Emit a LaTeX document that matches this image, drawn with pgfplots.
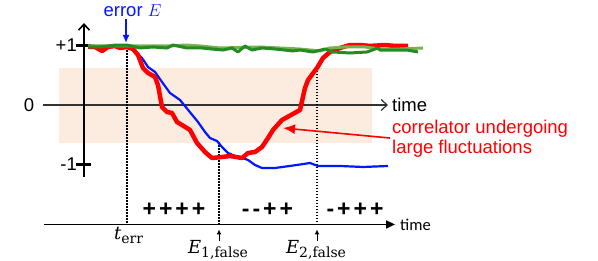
\documentclass[border=0pt]{standalone}
\usepackage[no-math]{fontspec}
\setmainfont{Liberation Sans}
\newfontfamily\dserif{DejaVu Serif}
\newfontfamily\carl{Carlito}
\usepackage{pgfplots}
\pgfplotsset{compat=1.18}
\usetikzlibrary{arrows.meta}
\definecolor{cred}{RGB}{255,0,0}
\definecolor{cblue}{RGB}{0,24,255}
\definecolor{dgreen}{RGB}{34,139,34}
\definecolor{lgreen}{RGB}{120,178,80}
\definecolor{shade}{RGB}{252,236,224}
\definecolor{axgray}{RGB}{50,50,50}
\newcommand\fs{\fontsize{18.5}{22}\selectfont}
\newcommand\fsb{\fontsize{23}{26}\selectfont\bfseries}
\newcommand\lab[3]{{\dserif\fontsize{18}{20}\selectfont\itshape #1}\kern#3\raisebox{-4pt}{\dserif\fontsize{14}{16}\selectfont #2}}
\begin{document}
\begin{tikzpicture}
\begin{axis}[
  scale only axis, width=598pt, height=261pt,
  xmin=0, xmax=598, ymin=-2.6218, ymax=1.7647,
  hide axis, clip=false,
]
\coordinate (bl) at (rel axis cs:0,0);
\coordinate (tr) at (rel axis cs:1,1);
% shaded band
\addplot[draw=none, fill=shade] coordinates {(59,0.622) (372,0.622) (372,-0.639) (59,-0.639)} -- cycle;
% middle time axis and y axis
\draw[line width=1.2pt, color=axgray, -{Straight Barb[length=6pt,width=11pt]}] (axis cs:43,0) -- (axis cs:388,0);
\draw[line width=1.6pt, -{Straight Barb[length=6pt,width=11pt]}] (axis cs:84,-1.21) -- (axis cs:84,1.378);
\draw[line width=2.2pt] (axis cs:76,1) -- (axis cs:91,1);
\draw[line width=2.2pt] (axis cs:76,-1) -- (axis cs:91,-1);
% bottom time axis
\draw[line width=1.8pt, -{Triangle[length=9pt,width=8pt]}] (axis cs:44,-2.008) -- (axis cs:395,-2.008);
% dotted lines
\draw[line width=1.5pt, dash pattern=on 1.5pt off 1.5pt] (axis cs:127,0.924) -- (axis cs:127,-2.008);
\draw[line width=1.5pt, dash pattern=on 1.5pt off 1.5pt] (axis cs:219,-0.622) -- (axis cs:219,-2.008);
\draw[line width=1.5pt, dash pattern=on 1.5pt off 1.5pt] (axis cs:317,0.622) -- (axis cs:317,-2.008);
% curves
\addplot[cblue, line width=2.2pt, line join=round] coordinates {
(88,0.992)(127,0.992)(133,0.924)(142,0.790)(148,0.639)(155,0.555)(162,0.387)(170,0.202)(180,0.084)(189,-0.101)(198,-0.286)(205,-0.454)(210,-0.555)(217,-0.605)(222,-0.706)(228,-0.807)(235,-0.857)(242,-0.891)(248,-0.924)(255,-1.008)(262,-1.059)(275,-1.059)(297,-1.008)(310,-0.975)(318,-1.025)(340,-1.025)(363,-1.042)(388,-1.025)};
\addplot[cred, line width=4.5pt, line join=round] coordinates {
(88,0.975)(95,0.975)(102,0.908)(108,0.975)(115,0.992)(120,0.958)(127,0.975)(133,0.941)(138,0.840)(143,0.622)(148,0.538)(155,0.471)(158,0.336)(162,-0.034)(167,-0.118)(172,-0.134)(177,-0.286)(182,-0.336)(190,-0.420)(197,-0.639)(205,-0.790)(212,-0.891)(222,-0.874)(230,-0.857)(242,-0.891)(248,-0.807)(255,-0.790)(262,-0.706)(268,-0.555)(273,-0.420)(282,-0.252)(300,-0.084)(305,0.286)(308,0.420)(317,0.622)(323,0.790)(330,0.891)(340,0.958)(350,1.008)(360,1.008)(370,0.992)(385,1.008)(395,0.992)(408,0.992)};
\addplot[lgreen, line width=3pt, line join=round] coordinates {
(88,0.992)(130,0.992)(170,0.992)(185,1.008)(200,0.992)(220,0.958)(260,0.975)(300,0.941)(320,0.908)(330,0.958)(345,0.975)(365,0.975)(380,0.941)(400,0.941)(423,0.958)};
\addplot[dgreen, line width=3pt, line join=round] coordinates {
(88,0.975)(100,0.975)(117,1.008)(127,1.008)(140,0.958)(153,0.975)(167,0.958)(173,1.008)(187,0.958)(202,0.958)(212,0.941)(223,0.924)(232,0.958)(238,0.891)(245,0.992)(252,0.924)(262,0.958)(275,0.941)(293,0.908)(300,0.924)(313,0.891)(325,0.941)(333,0.891)(350,0.874)(367,0.891)(378,0.958)(380,0.924)(397,0.924)(407,0.924)(418,0.891)};
% annotations
\node[font=\fs, text=cblue, inner sep=0] at (axis cs:132.5,1.58) {error $E$};
\draw[cblue, line width=1.5pt, -{Latex[length=8pt,width=7pt]}] (axis cs:126,1.445) -- (axis cs:126,1.042);
\node[font=\fs, anchor=east, inner sep=0] at (axis cs:77,1) {+1};
\node[font=\fs, anchor=east, inner sep=0] at (axis cs:77,-1) {-1};
\node[font=\fs, inner sep=0] at (axis cs:29,0) {0};
\node[font=\fs, anchor=west, inner sep=0] at (axis cs:392,0) {time};
\node[font=\fs, text=cred, anchor=base west, inner sep=0] at (axis cs:392,-0.471) {correlator undergoing};
\node[font=\fs, text=cred, anchor=base west, inner sep=0] at (axis cs:392,-0.807) {large fluctuations};
\draw[cred, line width=1.6pt, -{Latex[length=12pt,width=10pt]}] (axis cs:390,-0.555) -- (axis cs:283,-0.387);
\node[font=\fsb, inner sep=0] at (axis cs:174,-1.765) {+\kern3pt+\kern3pt+\kern3pt+};
\node[font=\fsb, inner sep=0] at (axis cs:267.5,-1.765) {-\kern3pt-\kern3pt+\kern3pt+};
\node[font=\fsb, inner sep=0] at (axis cs:355,-1.765) {-\kern3pt+\kern3pt+\kern3pt+};
\node[anchor=base, inner sep=0] at (axis cs:128.5,-2.261) {\lab{t}{err}{0pt}};
\draw[line width=1pt, -{Latex[length=5pt,width=5pt]}] (axis cs:219,-2.286) -- (axis cs:219,-2.092);
\draw[line width=1pt, -{Latex[length=5pt,width=5pt]}] (axis cs:317,-2.286) -- (axis cs:317,-2.092);
\node[anchor=base, inner sep=0] at (axis cs:218,-2.504) {\lab{E}{1,false}{0pt}};
\node[anchor=base, inner sep=0] at (axis cs:316,-2.504) {\lab{E}{2,false}{0pt}};
\node[anchor=base west, inner sep=0] at (axis cs:400,-2.104) {\carl\fontsize{16.5}{19}\selectfont time};
\end{axis}
\pgfresetboundingbox
\path (bl) rectangle (tr);
\end{tikzpicture}
\end{document}
